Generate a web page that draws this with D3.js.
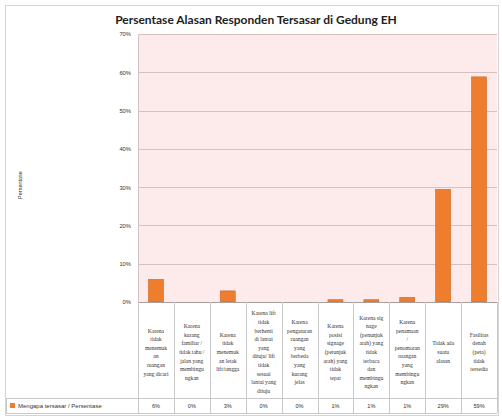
<!DOCTYPE html>
<html>
<head>
<meta charset="utf-8">
<script src="https://cdn.jsdelivr.net/npm/d3@7"></script>
<style>
  html, body { margin: 0; padding: 0; background: #fff; }
  svg { display: block; }
</style>
</head>
<body>
<svg id="chart" width="502" height="418"></svg>
<script>
// Reasons respondents got lost (share of respondents)
const categories = [
  "Karena tidak menemukan ruangan yang dicari",
  "Karena kurang familiar / tidak tahu / jalan yang membingungkan",
  "Karena tidak menemukan letak lift/tangga",
  "Karena lift tidak berhenti di lantai yang dituju/ lift tidak sesuai lantai yang dituju",
  "Karena pengaturan ruangan yang berbeda yang kurang jelas",
  "Karena posisi signage (petunjuk arah) yang tidak tepat",
  "Karena signage (penunjuk arah) yang tidak terbaca dan membingungkan",
  "Karena penamaan / penomoran ruangan yang membingungkan",
  "Tidak ada suatu alasan",
  "Fasilitas denah (peta) tidak tersedia"
];
// wrapped lines for the data-table cells
const categoryLines = [
  ["Karena", "tidak", "menemuk", "an", "ruangan", "yang dicari"],
  ["Karena", "kurang", "familiar /", "tidak tahu /", "jalan yang", "membingu", "ngkan"],
  ["Karena", "tidak", "menemuk", "an letak", "lift/tangga"],
  ["Karena lift", "tidak", "berhenti", "di lantai", "yang", "dituju/ lift", "tidak", "sesuai", "lantai yang", "dituju"],
  ["Karena", "pengaturan", "ruangan", "yang", "berbeda", "yang", "kurang", "jelas"],
  ["Karena", "posisi", "signage", "(petunjuk", "arah) yang", "tidak", "tepat"],
  ["Karena sig", "nage", "(penunjuk", "arah) yang", "tidak", "terbaca", "dan", "membingu", "ngkan"],
  ["Karena", "penamaan", "/", "penomoran", "ruangan", "yang", "membingu", "ngkan"],
  ["Tidak ada", "suatu", "alasan"],
  ["Fasilitas", "denah", "(peta)", "tidak", "tersedia"]
];
const values = [0.059, 0, 0.029, 0, 0, 0.006, 0.006, 0.012, 0.294, 0.588];
const yTicks = [0, 0.1, 0.2, 0.3, 0.4, 0.5, 0.6, 0.7];
const seriesName = "Mengapa tersasar / Persentase";
const chartTitle = "Persentase Alasan Responden Tersasar di Gedung EH";
const yTitle = "Persentase";

const svg = d3.select("#chart");
const fmt = d3.format(".0%");

const plotLeft = 138, plotRight = 497, plotTop = 34, zeroY = 302;
const tableTop = zeroY, valueRowTop = 398, tableBottom = 413;

const x = d3.scaleBand().domain(categories).range([plotLeft, plotRight]).paddingInner(0).paddingOuter(0);
const y = d3.scaleLinear().domain([0, 0.7]).range([zeroY, plotTop]);

// outer chart frame
svg.append("rect").attr("x", 5.5).attr("y", 5.5).attr("width", 493).attr("height", 410)
  .attr("fill", "#fff").attr("stroke", "#d4d4d4");

// title
svg.append("text").attr("x", 256).attr("y", 24).attr("text-anchor", "middle")
  .attr("font-family", "Lato, 'Open Sans', sans-serif").attr("font-weight", "bold")
  .attr("font-size", 12).attr("fill", "#222").text(chartTitle);

// plot background
svg.append("rect").attr("x", plotLeft).attr("y", plotTop).attr("width", plotRight - plotLeft).attr("height", zeroY - plotTop)
  .attr("fill", "#fdeaea");

// gridlines
svg.append("g").selectAll("line").data(yTicks.slice(1)).join("line")
  .attr("x1", plotLeft).attr("x2", plotRight)
  .attr("y1", d => Math.round(y(d)) + 0.5).attr("y2", d => Math.round(y(d)) + 0.5)
  .attr("stroke", "#d8c0c0").attr("stroke-width", 1);

// y axis
const yAxis = d3.axisLeft(y).tickValues(yTicks).tickFormat(fmt).tickSize(0).tickPadding(7);
const gy = svg.append("g").attr("transform", `translate(${plotLeft},0)`).call(yAxis);
gy.select(".domain").attr("stroke", "#cfc4c4");
gy.selectAll("text").attr("font-family", "'Liberation Sans', Arial, sans-serif")
  .attr("font-size", 5.8).attr("fill", "#333");

// y axis title
svg.append("text").attr("transform", "translate(22,185) rotate(-90)")
  .attr("text-anchor", "middle").attr("font-family", "'Liberation Sans', Arial, sans-serif")
  .attr("font-size", 5.5).attr("fill", "#333").text(yTitle);

// bars
const barW = 15;
svg.append("g").selectAll("rect").data(values).join("rect")
  .attr("x", (d, i) => x(categories[i]) + x.bandwidth() / 2 - barW / 2)
  .attr("width", barW)
  .attr("y", d => y(d))
  .attr("height", d => y(0) - y(d))
  .attr("fill", "#ee7d2e").attr("stroke", "#c8682a").attr("stroke-width", 0.6);

// baseline
svg.append("line").attr("x1", plotLeft).attr("x2", plotRight).attr("y1", zeroY + 0.5).attr("y2", zeroY + 0.5)
  .attr("stroke", "#a89e9e").attr("stroke-width", 1);

// data table grid
const tbl = svg.append("g").attr("stroke", "#c9c9c9").attr("stroke-width", 1);
const bounds = categories.map(c => x(c)).concat([plotRight]);
tbl.selectAll("line.v").data(bounds).join("line")
  .attr("x1", d => Math.round(d) + 0.5).attr("x2", d => Math.round(d) + 0.5)
  .attr("y1", tableTop).attr("y2", tableBottom);
tbl.append("line").attr("x1", 6).attr("x2", plotRight).attr("y1", valueRowTop + 0.5).attr("y2", valueRowTop + 0.5);
tbl.append("line").attr("x1", 6).attr("x2", plotRight).attr("y1", tableBottom + 0.5).attr("y2", tableBottom + 0.5);
tbl.append("line").attr("x1", 6.5).attr("x2", 6.5).attr("y1", valueRowTop).attr("y2", tableBottom);

// category labels in the table
const lh = 8.6, midY = 352;
const catG = svg.append("g").attr("font-family", "'Liberation Serif', 'DejaVu Serif', serif")
  .attr("font-size", 5.6).attr("fill", "#333").attr("text-anchor", "middle");
categoryLines.forEach((lines, i) => {
  const cx = x(categories[i]) + x.bandwidth() / 2;
  const startY = midY - (lines.length - 1) * lh / 2 + 2;
  const t = catG.append("text");
  lines.forEach((ln, j) => {
    t.append("tspan").attr("x", cx).attr("y", startY + j * lh).text(ln);
  });
});

// legend key + series name
svg.append("rect").attr("x", 10).attr("y", 403).attr("width", 5).attr("height", 5).attr("fill", "#ee7d2e");
svg.append("text").attr("x", 18).attr("y", 408).attr("font-family", "'Liberation Sans', Arial, sans-serif")
  .attr("font-size", 6).attr("fill", "#333").text(seriesName);

// value row
svg.append("g").selectAll("text").data(values).join("text")
  .attr("x", (d, i) => x(categories[i]) + x.bandwidth() / 2)
  .attr("y", 408).attr("text-anchor", "middle")
  .attr("font-family", "'Liberation Sans', Arial, sans-serif")
  .attr("font-size", 5.6).attr("fill", "#333").text(d => fmt(d));
</script>
</body>
</html>
